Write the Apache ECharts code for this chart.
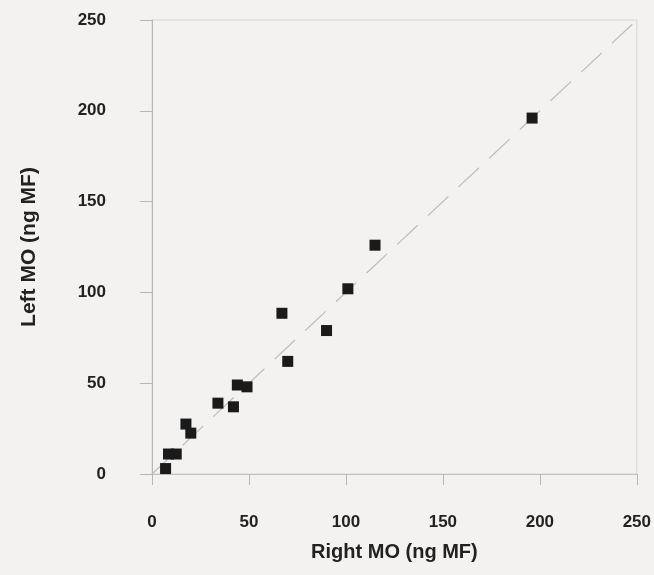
<!DOCTYPE html>
<html>
<head>
<meta charset="utf-8">
<script src="https://cdn.jsdelivr.net/npm/echarts@6/dist/echarts.min.js"></script>
<style>
html,body{margin:0;padding:0;background:#f4f2f0;}
#chart{width:654px;height:575px;}
</style>
</head>
<body>
<div id="chart"></div>
<script>
var rightMO = [7, 8.5, 12.5, 17.5, 20, 34, 42, 44, 49, 67, 70, 90, 101, 115, 196];
var leftMO  = [3, 11, 11, 27.5, 22.5, 39, 37, 49, 48, 88.5, 62, 79, 102, 126, 196];
var identityLine = [[0, 0], [250, 250]];
var xTitle = 'Right MO (ng MF)';
var yTitle = 'Left MO (ng MF)';

var points = rightMO.map(function (x, i) { return [x, leftMO[i]]; });

var chart = echarts.init(document.getElementById('chart'));
var labelStyle = { color: '#222', fontSize: 17, fontWeight: 'bold', fontFamily: 'Liberation Sans, Arial, sans-serif' };
chart.setOption({
  backgroundColor: '#f4f2f0',
  animation: false,
  grid: { left: 152, right: 14, top: 20, bottom: 101, show: true, borderColor: '#d6d4d2', borderWidth: 1 },
  xAxis: {
    type: 'value', min: 0, max: 250, interval: 50,
    name: xTitle, nameLocation: 'middle', nameGap: 68,
    nameTextStyle: { color: '#222', fontSize: 20, fontWeight: 'bold', fontFamily: 'Liberation Sans, Arial, sans-serif' },
    axisLine: { show: true, lineStyle: { color: '#c4c2c0', width: 1 } },
    axisTick: { show: true, length: 11, lineStyle: { color: '#b8b6b4' } },
    axisLabel: Object.assign({ margin: 40 }, labelStyle),
    splitLine: { show: false }
  },
  yAxis: {
    type: 'value', min: 0, max: 250, interval: 50,
    name: yTitle, nameLocation: 'middle', nameGap: 112, nameRotate: 90,
    nameTextStyle: { color: '#222', fontSize: 21, fontWeight: 'bold', fontFamily: 'Liberation Sans, Arial, sans-serif' },
    axisLine: { show: true, lineStyle: { color: '#b8b6b4', width: 1 } },
    axisTick: { show: true, length: 12, lineStyle: { color: '#b8b6b4' } },
    axisLabel: Object.assign({ margin: 46 }, labelStyle),
    splitLine: { show: false }
  },
  series: [
    {
      type: 'line', data: identityLine, symbol: 'none', silent: true, z: 1,
      lineStyle: { color: '#bdbbb9', width: 1.2, type: [28, 14] }
    },
    {
      type: 'scatter', data: points, symbol: 'rect', symbolSize: 11, z: 5,
      itemStyle: { color: '#1a1a1a', opacity: 1 }
    }
  ]
});
</script>
</body>
</html>
